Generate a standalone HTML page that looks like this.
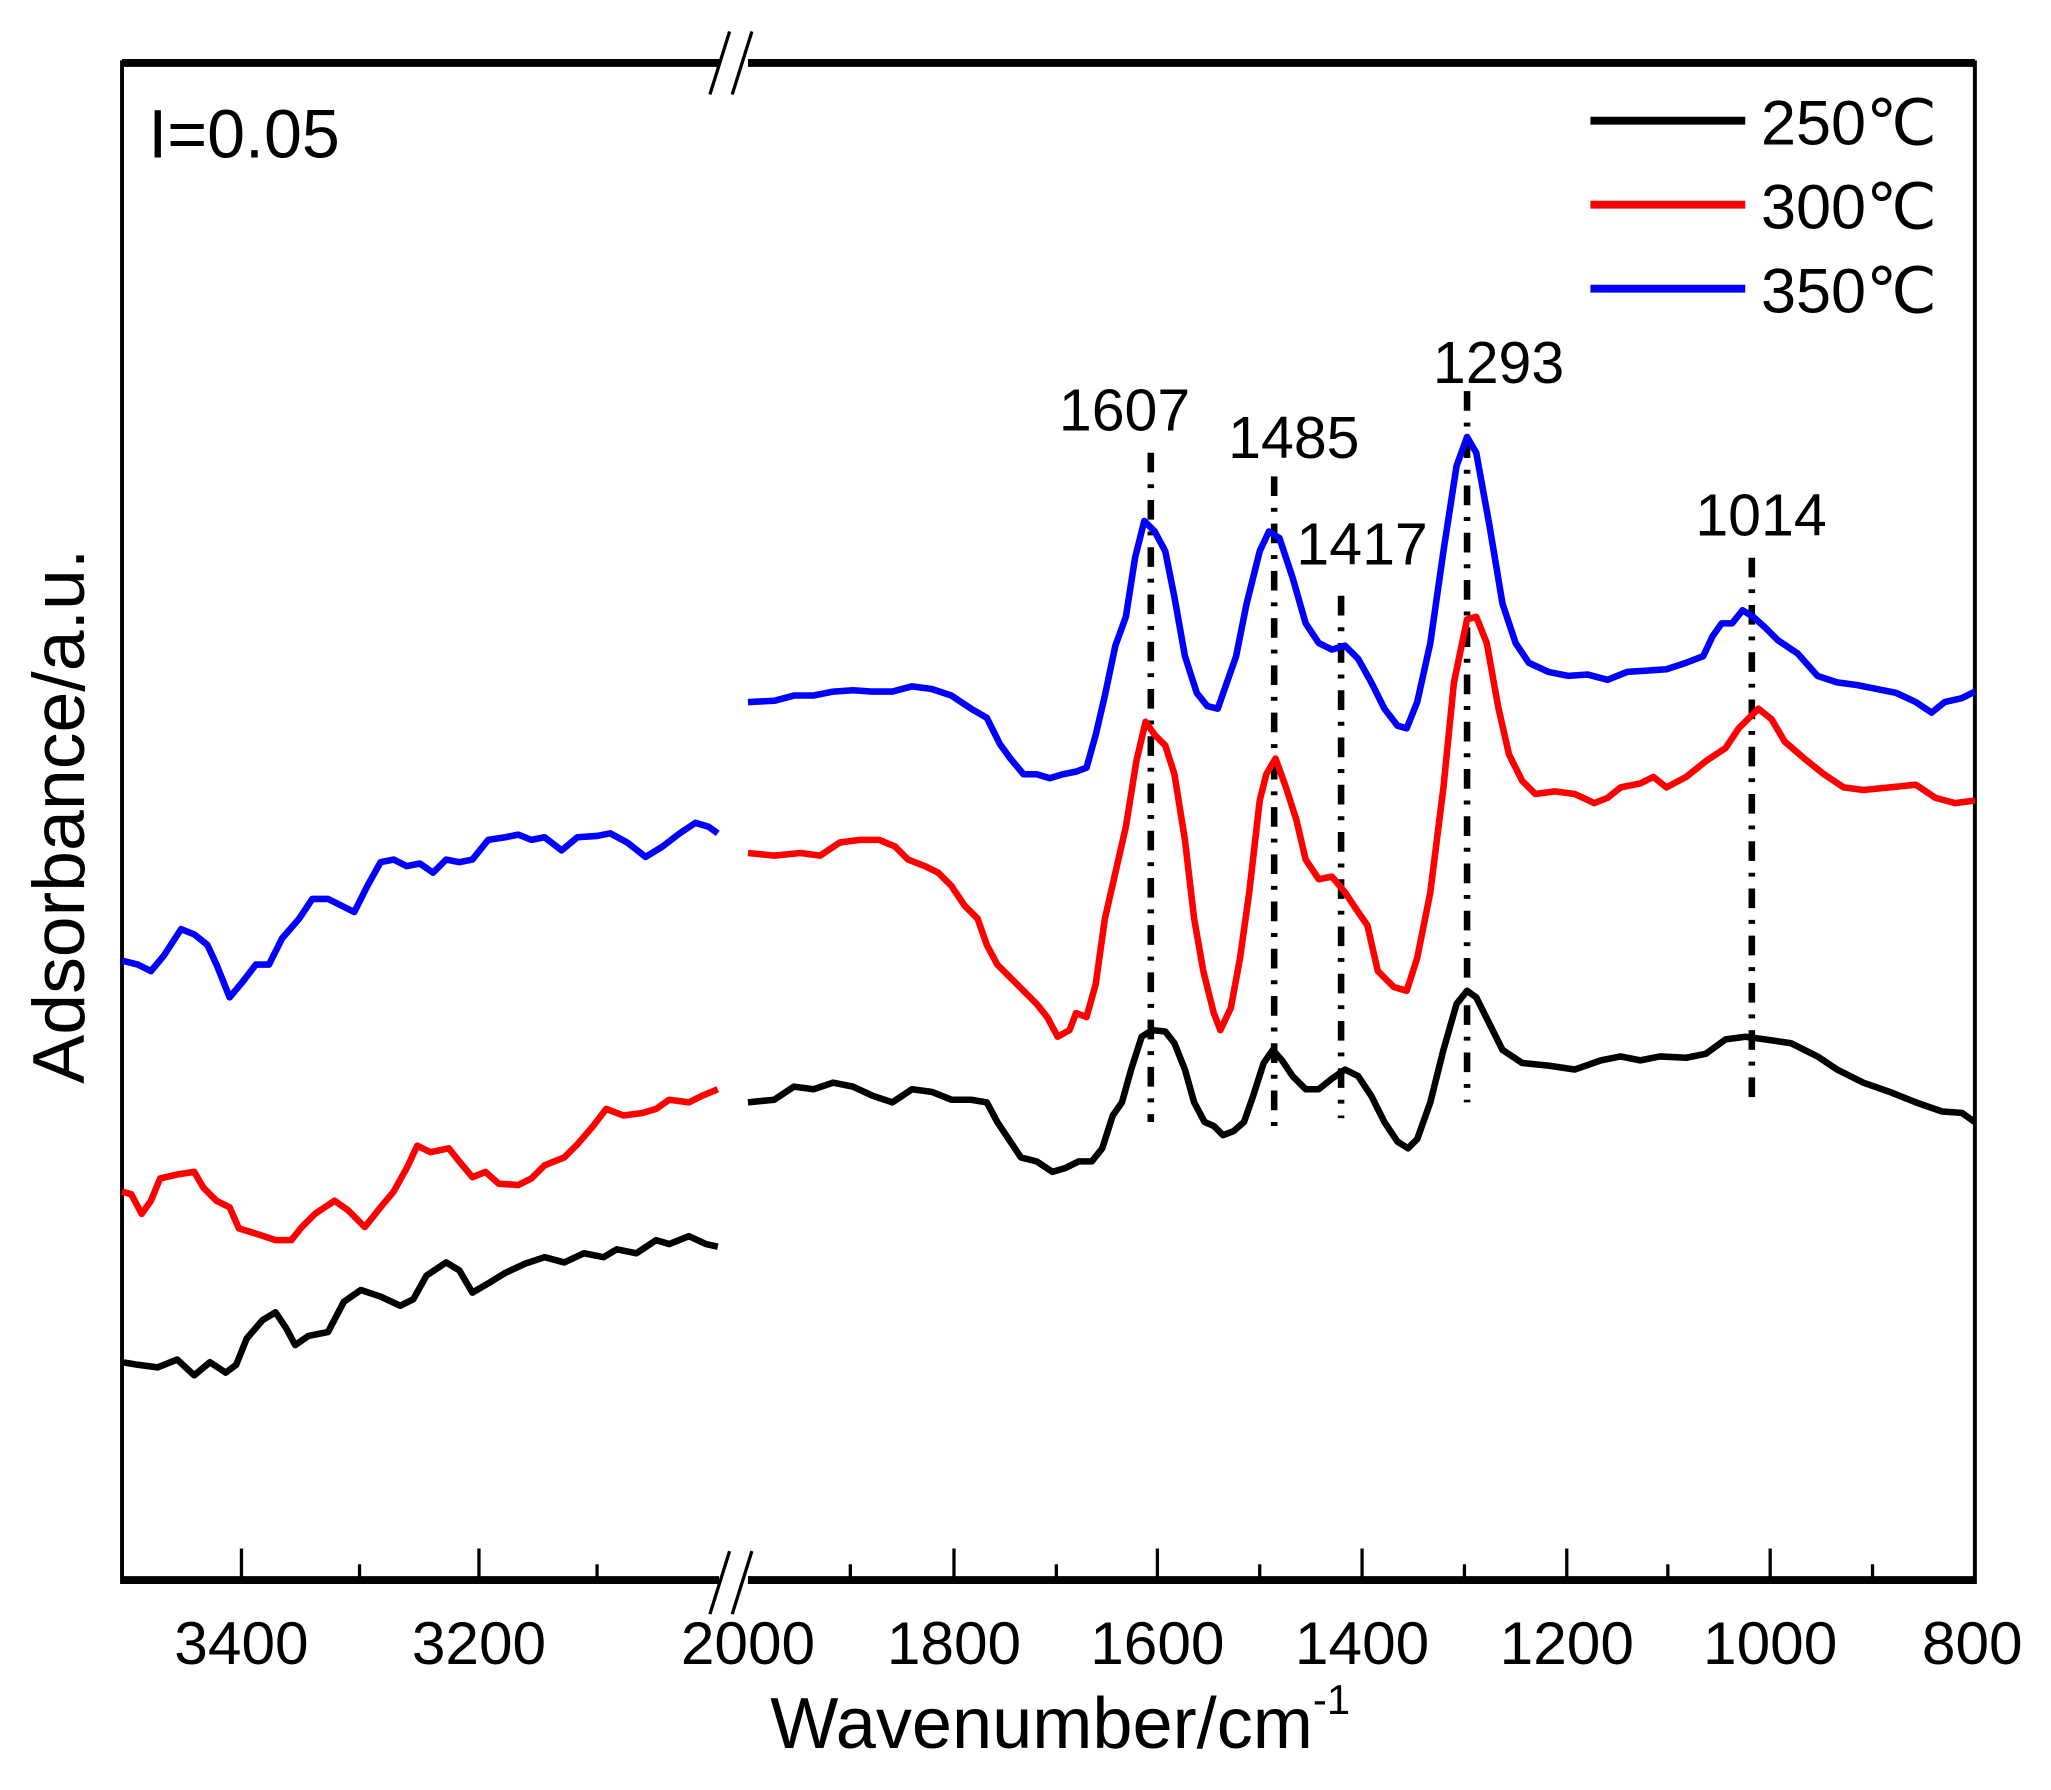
<!DOCTYPE html>
<html><head><meta charset="utf-8"><style>html,body{margin:0;padding:0;background:#fff}svg{display:block}</style></head>
<body>
<svg width="2051" height="1790" viewBox="0 0 1563 1364" preserveAspectRatio="none" xmlns="http://www.w3.org/2000/svg" font-family="Liberation Sans, Arial, sans-serif">
<rect width="1563" height="1364" fill="#fff"/>
<g stroke="#000" fill="none">
<line x1="93" y1="48" x2="1505" y2="48" stroke-width="6"/>
<line x1="93" y1="1204" x2="1505" y2="1204" stroke-width="6"/>
<line x1="93" y1="46" x2="93" y2="1207" stroke-width="3"/>
<line x1="1505" y1="46" x2="1505" y2="1207" stroke-width="3"/>
</g>
<rect x="548" y="38" width="22" height="16" fill="#fff"/>
<rect x="548" y="1196" width="22" height="16" fill="#fff"/>
<g stroke="#000" stroke-width="2.5">
<line x1="541" y1="72" x2="556" y2="24"/><line x1="558" y1="72" x2="573" y2="24"/>
<line x1="541" y1="1230" x2="556" y2="1182"/><line x1="558" y1="1230" x2="573" y2="1182"/>
</g>
<g stroke="#000" stroke-width="2.5">
<line x1="184" y1="1204" x2="184" y2="1180"/><line x1="365" y1="1204" x2="365" y2="1180"/>
<line x1="274" y1="1204" x2="274" y2="1192"/><line x1="455" y1="1204" x2="455" y2="1192"/>
<line x1="727" y1="1204" x2="727" y2="1180"/><line x1="882" y1="1204" x2="882" y2="1180"/>
<line x1="1038" y1="1204" x2="1038" y2="1180"/><line x1="1194" y1="1204" x2="1194" y2="1180"/>
<line x1="1349" y1="1204" x2="1349" y2="1180"/>
<line x1="648" y1="1204" x2="648" y2="1192"/><line x1="805" y1="1204" x2="805" y2="1192"/>
<line x1="960" y1="1204" x2="960" y2="1192"/><line x1="1116" y1="1204" x2="1116" y2="1192"/>
<line x1="1271" y1="1204" x2="1271" y2="1192"/><line x1="1427" y1="1204" x2="1427" y2="1192"/>
</g>
<g font-size="46" text-anchor="middle" fill="#000">
<text x="184" y="1268">3400</text><text x="365" y="1268">3200</text>
<text x="570" y="1268">2000</text><text x="727" y="1268">1800</text>
<text x="882" y="1268">1600</text><text x="1038" y="1268">1400</text>
<text x="1194" y="1268">1200</text><text x="1349" y="1268">1000</text>
<text x="1503" y="1268">800</text>
</g>
<text x="808" y="1332" font-size="55" text-anchor="middle">Wavenumber/cm<tspan font-size="32" dy="-26">-1</tspan></text>
<text transform="translate(64,622) rotate(-90)" font-size="56" text-anchor="middle">Adsorbance/a.u.</text>
<text x="113" y="120" font-size="52">I=0.05</text>
<g stroke-width="6">
<line x1="1212" y1="92" x2="1330" y2="92" stroke="#000"/>
<line x1="1212" y1="156" x2="1330" y2="156" stroke="#f00"/>
<line x1="1212" y1="220" x2="1330" y2="220" stroke="#00f"/>
</g>
<g font-size="48">
<text x="1342" y="110">250℃</text><text x="1342" y="174">300℃</text><text x="1342" y="238">350℃</text>
</g>
<g stroke="#000" stroke-width="5" stroke-dasharray="15,9,3,9" fill="none">
<line x1="877" y1="345" x2="877" y2="855"/>
<line x1="971" y1="363" x2="971" y2="865"/>
<line x1="1022" y1="454" x2="1022" y2="852"/>
<line x1="1118" y1="298" x2="1118" y2="840"/>
<line x1="1335" y1="425" x2="1335" y2="842"/>
</g>
<g font-size="45" text-anchor="middle">
<text x="857" y="328">1607</text><text x="986" y="349">1485</text>
<text x="1038" y="430">1417</text><text x="1142" y="292">1293</text>
<text x="1342" y="408">1014</text>
</g>
<g fill="none" stroke-width="5" stroke-linejoin="round">
<polyline stroke="#000" points="570,840 590,838 605,828 620,830 635,825 650,828 665,835 680,840 695,830 710,832 725,838 740,838 752,840 760,855 770,870 778,882 790,885 802,893 812,890 822,885 832,885 840,875 848,850 855,840 862,815 870,790 878,785 888,786 895,795 903,815 910,840 918,855 925,858 932,865 940,862 948,855 955,835 963,810 970,800 977,808 985,820 995,830 1005,830 1015,822 1025,815 1035,820 1045,835 1055,855 1065,870 1073,875 1080,868 1090,840 1100,800 1110,765 1118,755 1125,760 1135,780 1145,800 1160,810 1180,812 1200,815 1220,808 1235,805 1250,808 1265,805 1285,806 1300,803 1315,792 1330,790 1345,792 1365,795 1385,805 1400,815 1420,825 1440,832 1460,840 1480,847 1495,848 1505,855"/>
<polyline stroke="#000" points="93,1038 105,1040 120,1042 135,1036 148,1048 160,1038 172,1046 180,1040 188,1020 200,1006 210,1000 218,1012 225,1025 235,1018 250,1015 262,992 275,983 290,988 305,995 315,990 325,972 340,962 350,968 360,985 372,978 385,970 400,963 415,958 430,962 445,955 460,958 470,952 485,955 500,945 510,948 525,942 538,948 547,950"/>
<polyline stroke="#f00" points="93,908 100,910 108,925 115,915 122,898 135,895 148,893 155,905 165,915 175,920 182,936 195,940 210,945 222,945 230,935 240,925 255,915 265,922 278,935 290,920 300,908 310,890 318,873 328,878 342,875 350,885 360,897 370,893 380,902 395,903 405,898 415,888 430,882 440,872 452,858 462,845 475,850 490,848 500,845 510,838 525,840 535,835 547,830"/>
<polyline stroke="#f00" points="570,650 590,652 610,650 625,652 640,642 655,640 670,640 682,645 692,655 705,660 715,665 725,675 735,690 745,700 752,720 760,735 770,745 780,755 790,765 798,775 806,790 815,785 820,772 828,775 835,750 842,700 850,665 858,630 866,580 873,550 880,560 888,568 895,590 903,640 910,700 917,740 925,772 930,785 938,768 945,730 952,680 960,610 965,590 972,578 980,600 988,625 995,655 1005,670 1015,668 1025,680 1035,695 1042,705 1050,740 1062,752 1072,755 1080,730 1090,680 1100,600 1108,520 1118,472 1125,470 1133,490 1142,540 1150,575 1160,595 1170,605 1185,603 1200,605 1215,612 1225,608 1235,600 1250,597 1260,592 1270,600 1285,592 1300,580 1315,570 1325,555 1340,540 1350,548 1360,565 1375,578 1390,590 1405,600 1420,602 1440,600 1460,598 1475,608 1490,612 1505,610"/>
<polyline stroke="#00f" points="93,732 105,735 115,740 125,728 138,708 148,712 158,720 165,735 175,760 185,748 195,735 205,735 215,715 228,700 238,685 250,685 260,690 270,695 280,675 290,657 300,655 310,660 320,658 330,665 340,655 350,657 360,655 372,640 385,638 395,636 405,640 415,638 428,648 440,638 455,637 465,635 478,642 492,653 505,645 518,635 530,627 540,630 547,635"/>
<polyline stroke="#00f" points="570,535 590,534 605,530 620,530 635,527 650,526 665,527 680,527 695,523 710,525 725,530 740,540 752,547 762,567 770,578 780,590 790,590 800,593 810,590 820,588 828,585 835,560 842,530 850,492 858,470 865,425 872,397 880,405 888,420 895,455 903,500 912,528 920,538 928,540 935,520 942,500 950,460 960,420 967,405 975,410 985,440 995,475 1005,490 1015,495 1025,492 1035,502 1045,520 1055,540 1065,553 1072,555 1080,535 1090,490 1100,420 1110,355 1118,333 1125,345 1135,400 1145,460 1155,490 1165,505 1180,512 1195,515 1210,514 1225,518 1240,512 1255,511 1270,510 1285,505 1298,500 1305,485 1312,475 1320,475 1328,465 1336,470 1345,478 1355,488 1370,498 1385,515 1400,520 1415,522 1430,525 1445,528 1460,535 1472,543 1482,535 1495,532 1505,527"/>
</g>
</svg>
</body></html>
